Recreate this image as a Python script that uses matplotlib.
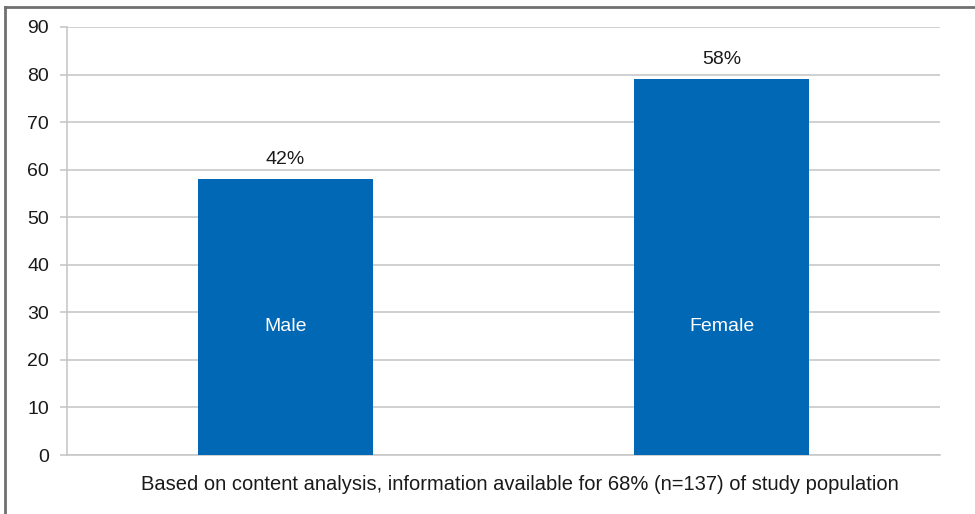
import matplotlib
matplotlib.use("Agg")
import matplotlib.pyplot as plt
from matplotlib.lines import Line2D

categories = ["Male", "Female"]
values = [58, 79]
value_labels = ["42%", "58%"]
yticks = [0, 10, 20, 30, 40, 50, 60, 70, 80, 90]
note = "Based on content analysis, information available for 68% (n=137) of study population"

plt.rcParams['font.family'] = ['Liberation Sans', 'DejaVu Sans']

fig = plt.figure(figsize=(9.75, 5.14), dpi=100)
ax = fig.add_axes([67/975, 59/514, 873/975, 428/514])

bar_color = "#0068B5"
grid_color = "#C8C8C8"
text_color = "#1a1a1a"
x = list(range(len(categories)))
bars = ax.bar(x, values, width=0.4, color=bar_color, zorder=3)

ax.set_xlim(-0.5, 1.5)
ax.set_ylim(0, 90)
ax.set_yticks(yticks)
ax.set_yticklabels([str(t) for t in yticks], fontsize=14, color=text_color)
ax.set_xticks([])
ax.yaxis.grid(True, color=grid_color, linewidth=1.2, zorder=0)
ax.tick_params(axis='y', length=5, width=1.2, color=grid_color, pad=8)
for s in ["top", "right"]:
    ax.spines[s].set_visible(False)
for s in ["left", "bottom"]:
    ax.spines[s].set_color(grid_color)
    ax.spines[s].set_linewidth(1.2)

for xi, v, lab, cat in zip(x, values, value_labels, categories):
    ax.annotate(lab, (xi, v), xytext=(0, 8), textcoords="offset points",
                ha="center", va="bottom", fontsize=14, color=text_color)
    ax.text(xi, 27, cat, ha="center", va="center", fontsize=14, color="white", zorder=4)

fig.text(520/975, 1 - 484/514, note, ha="center", va="center", fontsize=14.5, color=text_color)

# outer frame lines (top and left)
fig.add_artist(Line2D([5/975, 1.0], [1 - 7/514, 1 - 7/514], color="#707070", linewidth=2, transform=fig.transFigure))
fig.add_artist(Line2D([5/975, 5/975], [0, 1 - 7/514], color="#707070", linewidth=2, transform=fig.transFigure))

fig.savefig("out.png", dpi=100)
